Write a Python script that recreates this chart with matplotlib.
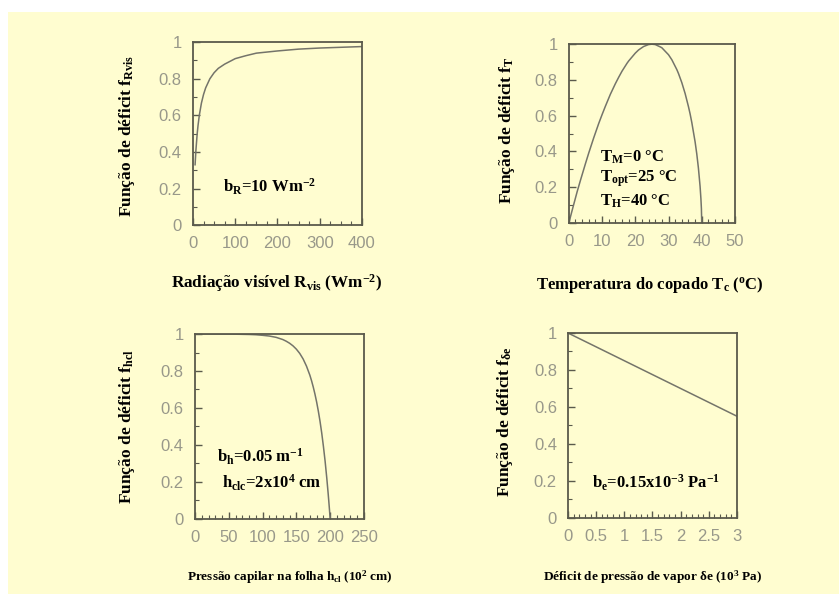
import matplotlib
matplotlib.use('Agg')
import matplotlib.pyplot as plt
from matplotlib.patches import Rectangle
from matplotlib.ticker import MultipleLocator, FuncFormatter

# values
rvis = [5, 7, 10, 12, 15, 20, 25, 30, 40, 50, 60, 75, 100, 125, 150, 175, 200, 250, 300, 350, 400]
f_rvis = [0.33, 0.41, 0.50, 0.545, 0.60, 0.667, 0.714, 0.75, 0.80, 0.833, 0.857, 0.88, 0.91, 0.926,
          0.94, 0.946, 0.952, 0.962, 0.968, 0.972, 0.976]

tc = [0, 1, 2.5, 3.5, 5, 6, 7.5, 9, 10, 11, 12.5, 14, 15, 16, 17.5, 18, 20, 21, 22.5, 24, 25, 26, 27.5,
      28, 30, 31, 32.5, 33, 34, 35, 36, 36.5, 37, 38, 38.5, 39, 39.5, 39.75, 39.9, 40]
f_t = [0, 0.071, 0.175, 0.239, 0.332, 0.392, 0.477, 0.557, 0.606, 0.653, 0.72, 0.779, 0.815, 0.849,
       0.893, 0.906, 0.95, 0.968, 0.987, 0.998, 1.0, 0.998, 0.985, 0.98, 0.941, 0.913, 0.858, 0.836,
       0.785, 0.724, 0.651, 0.61, 0.563, 0.454, 0.387, 0.307, 0.205, 0.136, 0.08, 0]

hcl = [0, 50, 60, 80, 90, 100, 110, 120, 130, 135, 140, 145, 150, 155, 160, 165, 170, 172.5, 175,
       177.5, 180, 182.5, 185, 187.5, 190, 192.5, 195, 197, 198, 199, 200]
f_hcl = [1.0, 1.0, 0.999, 0.9975, 0.996, 0.993, 0.989, 0.982, 0.970, 0.961, 0.95, 0.936, 0.918, 0.895,
         0.865, 0.826, 0.777, 0.747, 0.713, 0.675, 0.632, 0.583, 0.528, 0.465, 0.393, 0.313, 0.221,
         0.139, 0.095, 0.049, 0]

de = [0, 3]
f_de = [1.0, 0.55]

bg = '#fffdd0'
framec = '#5a5a4c'
linec = '#74746a'
tickc = '#98988a'

plt.rcParams['mathtext.fontset'] = 'custom'
plt.rcParams['mathtext.rm'] = 'Liberation Serif'
plt.rcParams['mathtext.bf'] = 'Liberation Serif:bold'
plt.rcParams['mathtext.it'] = 'Liberation Serif:bold'

serif = {'family': 'Liberation Serif', 'weight': 'bold'}

fig = plt.figure(figsize=(8.39, 5.94), dpi=100)
fig.patches.append(Rectangle((8/839., 0), 1, (594-12)/594., transform=fig.transFigure,
                             facecolor=bg, edgecolor='none', zorder=-10))


def setup(rect, x, y, xmax, xmaj, xmin, xlab, xlabsize, xlabpos, ylab, ylabpos):
	ax = fig.add_axes(rect)
	ax.set_facecolor(bg)
	ax.plot(x, y, color=linec, linewidth=1.1)
	ax.axis([0, xmax, 0, 1])
	ax.xaxis.set_major_locator(MultipleLocator(xmaj))
	ax.xaxis.set_minor_locator(MultipleLocator(xmin))
	ax.yaxis.set_major_locator(MultipleLocator(0.2))
	ax.yaxis.set_minor_locator(MultipleLocator(0.1))
	ax.xaxis.set_major_formatter(FuncFormatter(lambda v, p: '%g' % v))
	ax.yaxis.set_major_formatter(FuncFormatter(lambda v, p: '%g' % v))
	ax.tick_params(which='both', direction='in', colors=framec, labelcolor=tickc,
	               top=False, right=False)
	ax.tick_params(which='major', length=5, width=1, labelsize=12, pad=8)
	ax.tick_params(which='minor', length=3, width=0.8)
	for lab in ax.get_xticklabels() + ax.get_yticklabels():
		lab.set_family('Liberation Sans')
	for s in ax.spines.values():
		s.set_color(framec)
		s.set_linewidth(1.3)
	ax.set_xlabel(xlab, fontdict=serif, fontsize=xlabsize, va='center')
	ax.xaxis.set_label_coords(*xlabpos)
	ax.set_ylabel(ylab, fontdict=serif, fontsize=12.5, va='center')
	ax.yaxis.set_label_coords(*ylabpos)
	return ax


ax1 = setup([0.230, 0.621, 0.2014, 0.308], rvis, f_rvis, 400, 100, 25,
            r'Radiação visível R$_{\mathbf{vis}}$ (Wm$^{\mathbf{-2}}$)', 12.3, (0.494, -0.317),
            r'Função de déficit f$_{\mathbf{Rvis}}$', (-0.39, 0.49))
ax1.text(70, 0.21, r'b$_{\mathbf{R}}$=10 Wm$^{\mathbf{-2}}$', fontdict=serif, fontsize=12, va='center')

ax2 = setup([0.678, 0.6246, 0.198, 0.301], tc, f_t, 50, 10, 2,
            r'Temperatura do copado T$_{\mathbf{c}}$ ($^{\mathbf{o}}$C)', 12, (0.488, -0.346),
            r'Função de déficit f$_{\mathbf{T}}$', (-0.373, 0.52))
ax2.text(9.3, 0.37, r'T$_{\mathbf{M}}$=0 °C', fontdict=serif, fontsize=12, va='center')
ax2.text(9.3, 0.25, r'T$_{\mathbf{opt}}$=25 °C', fontdict=serif, fontsize=12, va='center')
ax2.text(9.3, 0.12, r'T$_{\mathbf{H}}$=40 °C', fontdict=serif, fontsize=12, va='center')

ax3 = setup([0.2324, 0.1263, 0.2014, 0.3114], hcl, f_hcl, 250, 50, 10,
            r'Pressão capilar na folha h$_{\mathbf{cl}}$ (10$^{\mathbf{2}}$ cm)', 9.5, (0.56, -0.313),
            r'Função de déficit f$_{\mathbf{hcl}}$', (-0.40, 0.50))
ax3.text(32, 0.335, r'b$_{\mathbf{h}}$=0.05 m$^{\mathbf{-1}}$', fontdict=serif, fontsize=12, va='center')
ax3.text(40, 0.195, r'h$_{\mathbf{clc}}$=2x10$^{\mathbf{4}}$ cm', fontdict=serif, fontsize=12, va='center')

ax4 = setup([0.677, 0.128, 0.2014, 0.3114], de, f_de, 3, 0.5, 0.1,
            r'Déficit de pressão de vapor δe (10$^{\mathbf{3}}$ Pa)', 9.5, (0.50, -0.319),
            r'Função de déficit f$_{\mathbf{\delta e}}$', (-0.373, 0.52))
ax4.text(0.43, 0.19, r'b$_{\mathbf{e}}$=0.15x10$^{\mathbf{-3}}$ Pa$^{\mathbf{-1}}$', fontdict=serif,
         fontsize=12, va='center')

plt.savefig('out.png', dpi=100, facecolor='white')
